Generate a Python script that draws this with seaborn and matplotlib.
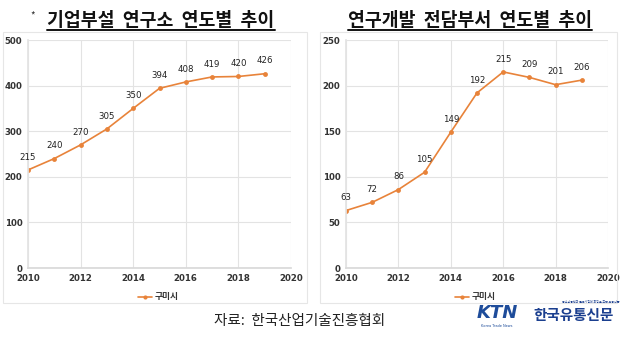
import matplotlib
matplotlib.use("Agg")
import matplotlib.pyplot as plt
import seaborn as sns
import pandas as pd
from matplotlib.patches import Rectangle

years = [2010, 2011, 2012, 2013, 2014, 2015, 2016, 2017, 2018, 2019]
labs_corp = [215, 240, 270, 305, 350, 394, 408, 419, 420, 426]
labs_rnd = [63, 72, 86, 105, 149, 192, 215, 209, 201, 206]
series_name = "구미시"
title_left = "기업부설  연구소  연도별  추이"
title_right = "연구개발  전담부서  연도별  추이"
source_text = "자료:  한국산업기술진흥협회"

sns.set_theme(style="white")
plt.rcParams['font.family'] = ['Noto Sans CJK KR', 'DejaVu Sans']

W, H = 625, 338
fig = plt.figure(figsize=(W / 100, H / 100), dpi=100)
fig.patch.set_facecolor("white")

def ax_rect(x0, y0, x1, y1):
    return [x0 / W, 1 - y1 / H, (x1 - x0) / W, (y1 - y0) / H]

ORANGE = "#E8833A"
GRID = "#E3E3E3"

# panel borders
for (x0, y0, x1, y1) in [(3, 32, 307, 303), (320, 32, 617, 303)]:
    fig.patches.append(Rectangle((x0 / W, 1 - y1 / H), (x1 - x0) / W, (y1 - y0) / H,
                                 transform=fig.transFigure, fill=False,
                                 edgecolor="#E6E6E6", linewidth=0.8))

def draw(rect, values, ymax, ystep, legend_y):
    ax = fig.add_axes(ax_rect(*rect))
    df = pd.DataFrame({"year": years, "value": values, "series": series_name})
    sns.lineplot(data=df, x="year", y="value", hue="series", palette=[ORANGE],
                 marker="o", markersize=3.5, markeredgewidth=0, linewidth=1.2,
                 ax=ax, legend=False)
    ax.set_xlim(2010, 2020)
    ax.set_ylim(0, ymax)
    ax.set_xticks(range(2010, 2021, 2))
    ax.set_yticks(range(0, ymax + 1, ystep))
    ax.grid(True, color=GRID, linewidth=0.8)
    for s in ax.spines.values():
        s.set_visible(False)
    ax.spines['bottom'].set_visible(True)
    ax.spines['bottom'].set_color("#D9D9D9")
    ax.spines['left'].set_visible(True)
    ax.spines['left'].set_color(GRID)
    ax.tick_params(axis='both', length=0, labelsize=6.2, colors="#333333")
    for lab in ax.get_xticklabels() + ax.get_yticklabels():
        lab.set_fontweight("bold")
        lab.set_family(['DejaVu Sans'])
    ax.tick_params(axis='x', pad=4)
    ax.tick_params(axis='y', pad=4)
    ax.set_xlabel("")
    ax.set_ylabel("")
    for x, v in zip(years, values):
        ax.annotate(str(v), (x, v), xytext=(0, 6), textcoords="offset points",
                    ha="center", va="bottom", fontsize=6.2, color="#222222",
                    family=['DejaVu Sans'])
    # legend
    cx = (rect[0] + rect[2]) / 2
    fig.add_artist(plt.Line2D([(cx - 22) / W, (cx - 8) / W], [1 - legend_y / H] * 2,
                              color=ORANGE, linewidth=1.2, transform=fig.transFigure))
    fig.add_artist(plt.Line2D([(cx - 15) / W], [1 - legend_y / H], marker="o",
                              markersize=3, color=ORANGE, markeredgewidth=0,
                              transform=fig.transFigure))
    fig.text((cx - 5) / W, 1 - legend_y / H, series_name, fontsize=6.3,
             fontweight="bold", color="#333333", va="center", ha="left")
    return ax

draw((28, 40, 291, 268), labs_corp, 500, 100, 297)
draw((346, 40, 608, 268), labs_rnd, 250, 50, 297)

# titles with underline
def title(xc, text):
    t = fig.text(xc / W, 1 - 20 / H, text, fontsize=13.2, fontweight="bold",
                 ha="center", va="center", color="#111111")
    fig.canvas.draw()
    bb = t.get_window_extent()
    y = 1 - 30 / H
    fig.add_artist(plt.Line2D([bb.x0 / W, bb.x1 / W], [y, y], color="#111111",
                              linewidth=1.4, transform=fig.transFigure))
    return bb

title(161, title_left)
fig.text(33 / W, 1 - 15 / H, "*", fontsize=7, ha="center", va="center", color="#333333")
title(470, title_right)

fig.text(300 / W, 1 - 321 / H, source_text, fontsize=10.5, ha="center", va="center",
         color="#222222", fontweight="light")

# logo
fig.text(497 / W, 1 - 313 / H, "KTN", fontsize=13, fontweight="heavy", style="italic",
         ha="center", va="center", color="#1E4C9A", family=['DejaVu Sans'])
fig.text(497 / W, 1 - 326 / H, "Korea Trade News", fontsize=2.5, ha="center",
         va="center", color="#1E4C9A", family=['DejaVu Sans'])
fig.text(574 / W, 1 - 315 / H, "한국유통신문", fontsize=10.5, fontweight="bold",
         ha="center", va="center", color="#1B3F8F")
fig.text(591 / W, 1 - 302 / H, "중소상공인과 골목시장에 희망을 주는 유통신문", fontsize=2.2,
         ha="center", va="center", color="#1B3F8F")

fig.savefig("out.png", dpi=100, facecolor="white")
